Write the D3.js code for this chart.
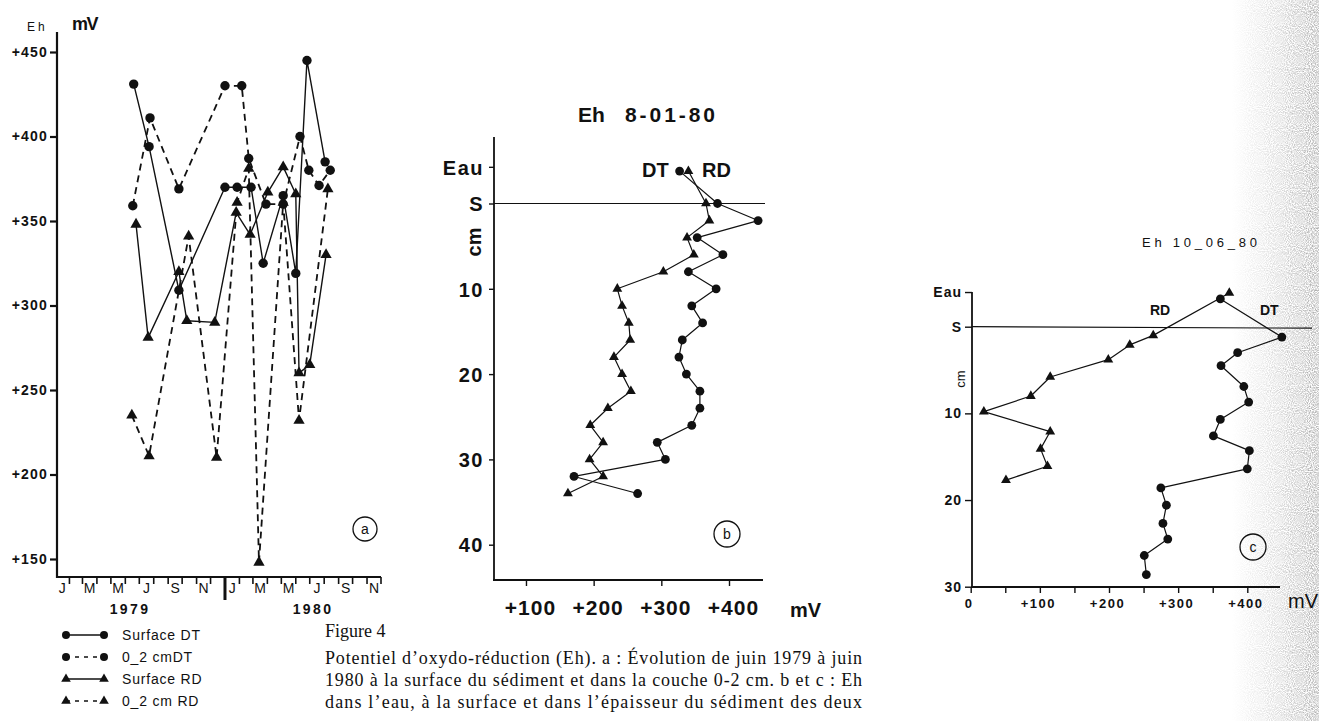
<!DOCTYPE html>
<html>
<head>
<meta charset="utf-8">
<script src="https://cdn.jsdelivr.net/npm/d3@7"></script>
<style>
  html, body { margin: 0; padding: 0; background: #fff; }
  svg { display: block; }
</style>
</head>
<body>
<svg id="fig" width="1319" height="721"></svg>
<script>
// ---------- Panel a : Eh through time (mV) ----------
const surfDTDates  = ["1979-06-19","1979-07-22","1979-09-24","1980-01-01","1980-01-27","1980-02-26","1980-03-23","1980-05-05","1980-06-01","1980-06-25","1980-08-03"];
const surfDTEh     = [431, 394, 309, 370, 370, 370, 325, 365, 319, 445, 385];
const layerDTDates = ["1979-06-17","1979-07-24","1979-09-24","1980-01-01","1980-02-06","1980-02-21","1980-03-29","1980-05-05","1980-06-10","1980-06-29","1980-07-21","1980-08-14"];
const layerDTEh    = [359, 411, 369, 430, 430, 387, 360, 360, 400, 380, 371, 380];
const surfRDDates  = ["1979-06-24","1979-07-20","1979-09-24","1979-10-11","1979-12-10","1980-01-25","1980-02-24","1980-04-02","1980-05-05","1980-06-01","1980-06-08","1980-07-01","1980-08-05"];
const surfRDEh     = [348, 281, 320, 291, 290, 355, 342, 367, 382, 366, 260, 265, 330];
const layerRDDates = ["1979-06-15","1979-07-22","1979-10-15","1979-12-14","1980-01-27","1980-02-21","1980-03-14","1980-05-05","1980-06-08","1980-08-09"];
const layerRDEh    = [235, 211, 341, 210, 361, 381, 148, 361, 232, 369];
const ehTicksA     = [150, 200, 250, 300, 350, 400, 450];
const monthLetters = ["J", "M", "M", "J", "S", "N"];
const yearLabels   = ["1979", "1980"];
const legendLabels = ["Surface DT", "0_2 cmDT", "Surface RD", "0_2 cm RD"];

// ---------- Panel b : profile of 8-01-80 ----------
const depthB    = [-3.8, 0, 2, 4, 6, 8, 10, 12, 14, 16, 18, 20, 22, 24, 26, 28, 30, 32, 34];
const ehB_DT    = [327, 383, 443, 353, 391, 340, 381, 345, 361, 331, 326, 337, 357, 357, 345, 294, 306, 171, 265];
const ehB_RD    = [340, 366, 371, 338, 348, 303, 235, 242, 252, 254, 230, 242, 255, 221, 195, 214, 194, 214, 162];
const depthTicksB  = [-4.3, 0, 10, 20, 30, 40];
const depthLabelsB = ["Eau", "S", "10", "20", "30", "40"];
const ehTicksB     = [100, 200, 300, 400];

// ---------- Panel c : profile of 10-06-80 ----------
const depthC_DT = [-3.2, 1.2, 3, 4.5, 6.9, 8.7, 10.7, 12.6, 14.3, 16.4, 18.6, 20.6, 22.7, 24.5, 26.4, 28.6];
const ehC_DT    = [361, 450, 386, 362, 395, 402, 361, 351, 403, 400, 275, 283, 278, 285, 251, 254];
const depthC_RD = [-3.9, 1, 2.1, 3.8, 5.8, 8, 9.8, 12.1, 14.1, 16.1, 17.7];
const ehC_RD    = [374, 264, 230, 199, 115, 87, 19, 115, 101, 111, 51];
const depthTicksC  = [-4, 0, 10, 20, 30];
const depthLabelsC = ["Eau", "S", "10", "20", "30"];
const ehTicksC     = [0, 50, 100, 150, 200, 250, 300, 350, 400];

// ---------- Caption ----------
const captionTitle = "Figure 4";
const captionLines = [
  "Potentiel d\u2019oxydo-réduction (Eh). a : Évolution de juin 1979 à juin",
  "1980 à la surface du sédiment et dans la couche 0-2 cm. b et c : Eh",
  "dans l\u2019eau, à la surface et dans l\u2019épaisseur du sédiment des deux"
];

// ====================================================================
const SANS = "'Liberation Sans', Arial, Helvetica, sans-serif";
const SERIF = "'Liberation Serif', 'Times New Roman', serif";
const INK = "#111";
const parseDate = d3.timeParse("%Y-%m-%d");
const svg = d3.select("#fig");

// scanned-page shadow along the right margin
const defs = svg.append("defs");
const grain = defs.append("filter").attr("id", "grain").attr("x", 0).attr("y", 0).attr("width", 1).attr("height", 1);
grain.append("feTurbulence").attr("type", "fractalNoise").attr("baseFrequency", 0.95).attr("numOctaves", 1).attr("seed", 7);
grain.append("feColorMatrix").attr("type", "matrix")
  .attr("values", "0 0 0 0 0.35  0 0 0 0 0.35  0 0 0 0 0.35  2.2 0 0 0 -0.75");
const fade = defs.append("linearGradient").attr("id", "edgeFade").attr("x1", 0).attr("x2", 1).attr("y1", 0).attr("y2", 0);
fade.append("stop").attr("offset", "0%").attr("stop-color", "#000");
fade.append("stop").attr("offset", "45%").attr("stop-color", "#666");
fade.append("stop").attr("offset", "100%").attr("stop-color", "#fff");
defs.append("mask").attr("id", "edgeMask")
  .append("rect").attr("x", 1232).attr("y", 0).attr("width", 87).attr("height", 721).attr("fill", "url(#edgeFade)");
svg.append("rect").attr("width", 1319).attr("height", 721).attr("fill", "#fff");
svg.append("g").attr("mask", "url(#edgeMask)")
  .append("rect").attr("x", 1232).attr("y", 0).attr("width", 87).attr("height", 721)
  .attr("filter", "url(#grain)");

function drawMarks(g, pts, kind, size) {
  if (kind === "circle") {
    g.selectAll(null).data(pts).join("circle")
      .attr("cx", d => d[0]).attr("cy", d => d[1]).attr("r", size).attr("fill", INK);
  } else {
    g.selectAll(null).data(pts).join("path")
      .attr("d", d3.symbol(d3.symbolTriangle, size))
      .attr("transform", d => `translate(${d[0]},${d[1]})`).attr("fill", INK);
  }
}
function drawLine(g, pts, width, dash) {
  g.append("path").attr("d", d3.line()(pts)).attr("fill", "none")
    .attr("stroke", INK).attr("stroke-width", width)
    .attr("stroke-dasharray", dash || null).attr("stroke-linejoin", "round");
}
function circledLetter(cx, cy, r, letter) {
  svg.append("circle").attr("cx", cx).attr("cy", cy).attr("r", r)
    .attr("fill", "none").attr("stroke", INK).attr("stroke-width", 1.3);
  svg.append("text").attr("x", cx).attr("y", cy + 5).attr("text-anchor", "middle")
    .attr("font-family", SANS).attr("font-size", 14).attr("fill", INK).text(letter);
}
function styleAxis(g, size, weight, spacing) {
  g.select(".domain").remove();
  g.selectAll(".tick line").attr("stroke", INK).attr("stroke-width", 1.4);
  g.selectAll(".tick text").attr("font-family", SANS).attr("font-size", size)
    .attr("font-weight", weight).attr("fill", INK).attr("letter-spacing", spacing);
}

// ==================== Panel a ====================
const xA = d3.scaleTime().domain([new Date(1979, 0, 1), new Date(1980, 11, 1)]).range([55, 381]);
const yA = d3.scaleLinear().domain([150, 450]).range([559, 52]);
const axisXA = 57, baseA = 577;

const gA = svg.append("g");
gA.append("line").attr("x1", axisXA).attr("x2", axisXA).attr("y1", 32).attr("y2", baseA + 1)
  .attr("stroke", INK).attr("stroke-width", 2.2);
gA.append("line").attr("x1", axisXA - 1).attr("x2", xA.range()[1]).attr("y1", baseA).attr("y2", baseA)
  .attr("stroke", INK).attr("stroke-width", 2.2);

const yAxA = gA.append("g").attr("transform", `translate(${axisXA},0)`)
  .call(d3.axisLeft(yA).tickValues(ehTicksA).tickFormat(d => "+" + d).tickSize(7).tickPadding(2));
styleAxis(yAxA, 14, "bold", 1.2);
yAxA.selectAll(".tick line").attr("stroke-width", 2.2);

// monthly ticks below the time axis, the new year marked by a longer one
const monthStarts = d3.timeMonth.range(new Date(1979, 1, 1), new Date(1980, 11, 2));
gA.selectAll(".mtick").data(monthStarts).join("line")
  .attr("x1", d => xA(d)).attr("x2", d => xA(d))
  .attr("y1", baseA).attr("y2", d => d.getMonth() === 0 ? baseA + 23 : baseA + 7)
  .attr("stroke", INK).attr("stroke-width", d => d.getMonth() === 0 ? 3 : 1.6);

const labelMonths = [];
[1979, 1980].forEach(yr => monthLetters.forEach((m, i) => labelMonths.push({ yr, mo: i * 2, m })));
gA.selectAll(".mlab").data(labelMonths).join("text")
  .attr("x", d => (xA(new Date(d.yr, d.mo, 1)) + xA(new Date(d.yr, d.mo + 1, 1))) / 2)
  .attr("y", 593).attr("text-anchor", "middle")
  .attr("font-family", SANS).attr("font-size", 14).attr("fill", INK).text(d => d.m);
gA.selectAll(".ylab").data(yearLabels).join("text")
  .attr("x", (d, i) => [130, 313][i]).attr("y", 614).attr("text-anchor", "middle")
  .attr("font-family", SANS).attr("font-size", 14).attr("font-weight", "bold")
  .attr("letter-spacing", 2.4).attr("fill", INK).text(d => d);

gA.append("text").attr("x", 27).attr("y", 31).attr("font-family", SANS).attr("font-size", 12)
  .attr("letter-spacing", 3).attr("fill", INK).text("Eh");
gA.append("text").attr("x", 72).attr("y", 30).attr("font-family", SANS).attr("font-size", 18)
  .attr("font-weight", "bold").attr("letter-spacing", -1.5).attr("fill", INK).text("mV");

const seriesA = [
  { dates: surfDTDates,  eh: surfDTEh,  mark: "circle",   dash: null,  w: 1.4 },
  { dates: layerDTDates, eh: layerDTEh, mark: "circle",   dash: "7,5", w: 1.8 },
  { dates: surfRDDates,  eh: surfRDEh,  mark: "triangle", dash: null,  w: 1.4 },
  { dates: layerRDDates, eh: layerRDEh, mark: "triangle", dash: "7,5", w: 1.8 }
];
seriesA.forEach(s => {
  s.pts = s.dates.map((d, i) => [xA(parseDate(d)), yA(s.eh[i])]);
  drawLine(gA, s.pts, s.w, s.dash);
});
seriesA.forEach(s => drawMarks(gA, s.pts, s.mark, s.mark === "circle" ? 4.7 : 55));
circledLetter(365, 529, 12, "a");

// legend
const legend = svg.append("g");
legendLabels.forEach((lab, i) => {
  const y = 635 + i * 22;
  const s = seriesA[i];
  drawLine(legend, [[66, y], [104, y]], 1.4, s.dash ? "4,5" : null);
  drawMarks(legend, [[66, y], [104, y]], s.mark, s.mark === "circle" ? 4 : 40);
  legend.append("text").attr("x", 122).attr("y", y + 5).attr("font-family", SANS)
    .attr("font-size", 14).attr("letter-spacing", 0.8).attr("fill", INK).text(lab);
});

// ==================== Panel b ====================
const xB = d3.scaleLinear().domain([0, 400]).range([458.3, 729]);
const yB = d3.scaleLinear().domain([0, 40]).range([203.5, 544.7]);
const axisXB = 494, baseB = 580;
const gB = svg.append("g");
gB.append("line").attr("x1", axisXB).attr("x2", axisXB).attr("y1", 137).attr("y2", baseB + 1)
  .attr("stroke", INK).attr("stroke-width", 1.8);
gB.append("line").attr("x1", axisXB - 1).attr("x2", 763).attr("y1", baseB).attr("y2", baseB)
  .attr("stroke", INK).attr("stroke-width", 1.8);
gB.append("line").attr("x1", axisXB).attr("x2", 765).attr("y1", yB(0)).attr("y2", yB(0))
  .attr("stroke", INK).attr("stroke-width", 1.2);

const yAxB = gB.append("g").attr("transform", `translate(${axisXB},0)`)
  .call(d3.axisLeft(yB).tickValues(depthTicksB).tickFormat((d, i) => depthLabelsB[i]).tickSize(5).tickPadding(5));
styleAxis(yAxB, 20, "bold", 1.5);
yAxB.selectAll(".tick text").attr("dy", "0.36em");
const xAxB = gB.append("g").attr("transform", `translate(0,${baseB})`)
  .call(d3.axisBottom(xB).tickValues(ehTicksB).tickFormat(d => "+" + d).tickSize(6).tickPadding(14));
styleAxis(xAxB, 21, "bold", 1);
xAxB.selectAll(".tick text").attr("dx", 4);
gB.append("text").attr("x", 790).attr("y", 617).attr("font-family", SANS).attr("font-size", 20)
  .attr("font-weight", "bold").attr("fill", INK).text("mV");
gB.append("text").attr("transform", "translate(481,242) rotate(-90)").attr("text-anchor", "middle")
  .attr("font-family", SANS).attr("font-size", 20).attr("font-weight", "bold").attr("fill", INK).text("cm");
gB.append("text").attr("x", 578).attr("y", 122).attr("font-family", SANS).attr("font-size", 21)
  .attr("font-weight", "bold").attr("fill", INK).text("Eh");
gB.append("text").attr("x", 625).attr("y", 122).attr("font-family", SANS).attr("font-size", 21)
  .attr("font-weight", "bold").attr("textLength", 90).attr("lengthAdjust", "spacing").attr("fill", INK).text("8-01-80");
gB.append("text").attr("x", 642).attr("y", 177).attr("font-family", SANS).attr("font-size", 20)
  .attr("font-weight", "bold").attr("fill", INK).text("DT");
gB.append("text").attr("x", 702).attr("y", 177).attr("font-family", SANS).attr("font-size", 20)
  .attr("font-weight", "bold").attr("fill", INK).text("RD");

const ptsB_DT = depthB.map((d, i) => [xB(ehB_DT[i]), yB(d)]);
const ptsB_RD = depthB.map((d, i) => [xB(ehB_RD[i]), yB(d)]);
drawLine(gB, ptsB_DT, 1.2);
drawLine(gB, ptsB_RD, 1.2);
drawMarks(gB, ptsB_DT, "circle", 4.4);
drawMarks(gB, ptsB_RD, "triangle", 42);
circledLetter(727, 534, 13, "b");

// ==================== Panel c ====================
const xC = d3.scaleLinear().domain([0, 400]).range([970.7, 1247.3]);
const yC = d3.scaleLinear().domain([0, 30]).range([326.7, 586.7]);
const axisXC = 972, baseC = 587;
const gC = svg.append("g");
gC.append("line").attr("x1", axisXC).attr("x2", axisXC).attr("y1", yC(-4)).attr("y2", baseC + 1)
  .attr("stroke", INK).attr("stroke-width", 1.8);
gC.append("line").attr("x1", axisXC - 1).attr("x2", 1280).attr("y1", baseC).attr("y2", baseC)
  .attr("stroke", INK).attr("stroke-width", 1.8);
gC.append("line").attr("x1", axisXC).attr("x2", 1312).attr("y1", yC(0)).attr("y2", yC(0) + 1.5)
  .attr("stroke", INK).attr("stroke-width", 1.2);

const yAxC = gC.append("g").attr("transform", `translate(${axisXC},0)`)
  .call(d3.axisLeft(yC).tickValues(depthTicksC).tickFormat((d, i) => depthLabelsC[i]).tickSize(7).tickPadding(3));
styleAxis(yAxC, 14, "bold", 1);
const xAxC = gC.append("g").attr("transform", `translate(0,${baseC})`)
  .call(d3.axisBottom(xC).tickValues(ehTicksC).tickFormat(d => d === 0 ? "0" : (d % 100 === 0 ? "+" + d : "")).tickSize(6).tickPadding(6));
styleAxis(xAxC, 13, "bold", 1.5);
xAxC.selectAll(".tick text").attr("dx", -2);
gC.append("text").attr("x", 1288).attr("y", 608).attr("font-family", SANS).attr("font-size", 20)
  .attr("fill", INK).text("mV");
gC.append("text").attr("transform", "translate(965,379) rotate(-90)").attr("text-anchor", "middle")
  .attr("font-family", SANS).attr("font-size", 13).attr("fill", INK).text("cm");
gC.append("text").attr("x", 1142).attr("y", 247).attr("font-family", SANS).attr("font-size", 13)
  .attr("textLength", 115).attr("lengthAdjust", "spacing").attr("fill", INK).text("Eh 10_06_80");
gC.append("text").attr("x", 1150).attr("y", 315).attr("font-family", SANS).attr("font-size", 14)
  .attr("font-weight", "bold").attr("fill", INK).text("RD");
gC.append("text").attr("x", 1260).attr("y", 315).attr("font-family", SANS).attr("font-size", 14)
  .attr("font-weight", "bold").attr("fill", INK).text("DT");

const ptsC_DT = depthC_DT.map((d, i) => [xC(ehC_DT[i]), yC(d)]);
const ptsC_RD = depthC_RD.map((d, i) => [xC(ehC_RD[i]), yC(d)]);
drawLine(gC, ptsC_DT, 1.2);
drawLine(gC, ptsC_RD, 1.2);
drawMarks(gC, ptsC_DT, "circle", 4.4);
drawMarks(gC, ptsC_RD, "triangle", 42);
circledLetter(1253, 547, 13, "c");

// ==================== Caption ====================
svg.append("text").attr("x", 325).attr("y", 637).attr("font-family", SERIF).attr("font-size", 18)
  .attr("fill", INK).text(captionTitle);
captionLines.forEach((line, i) => {
  svg.append("text").attr("x", 325).attr("y", 664 + i * 22).attr("font-family", SERIF)
    .attr("font-size", 18).attr("textLength", 537).attr("lengthAdjust", "spacing")
    .attr("fill", INK).text(line);
});
</script>
</body>
</html>
